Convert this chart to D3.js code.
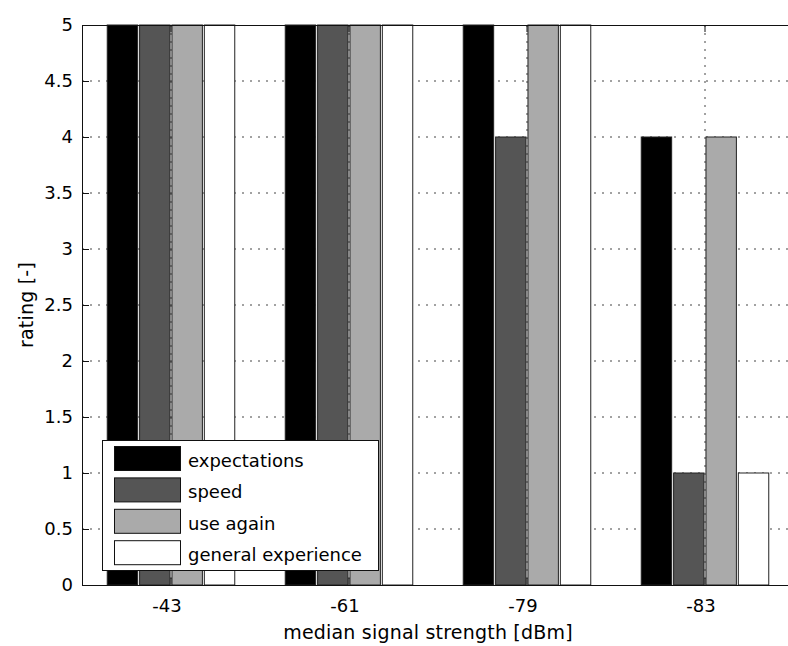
<!DOCTYPE html>
<html>
<head>
<meta charset="utf-8">
<script src="https://cdn.jsdelivr.net/npm/d3@7"></script>
<style>
  html, body { margin: 0; padding: 0; background: #fff; }
  svg { display: block; font-family: "DejaVu Sans", sans-serif; }
  .tick-label { font-size: 18px; fill: #000; }
  .axis-title { font-size: 19px; fill: #000; letter-spacing: 0.2px; }
  .legend-text { font-size: 18px; fill: #000; }
  .grid { stroke: #444; stroke-width: 1; stroke-dasharray: 2,6; fill: none; }
  .frame { stroke: #111; stroke-width: 1; fill: none; }
  .bar { stroke: #222; stroke-width: 1; }
</style>
</head>
<body>
<div id="chart"></div>
<script>
const d3 = window.d3;

// Data.
const categories = ['-43', '-61', '-79', '-83'];
const seriesNames = ['expectations', 'speed', 'use again', 'general experience'];
const expectations = [5, 5, 5, 4];
const speed = [5, 5, 4, 1];
const useAgain = [5, 5, 5, 4];
const generalExperience = [5, 5, 5, 1];
const yTicks = [0, 0.5, 1, 1.5, 2, 2.5, 3, 3.5, 4, 4.5, 5];
const xLabel = 'median signal strength [dBm]';
const yLabel = 'rating [-]';

const seriesValues = [expectations, speed, useAgain, generalExperience];
const fills = ['#000000', '#555555', '#aaaaaa', '#ffffff'];

const W = 788, H = 646;
const M = { top: 25, left: 82, bottom: 61, right: -6 };
const innerW = W - M.left - M.right;
const innerH = H - M.top - M.bottom;
const TICK = 7;

const svg = d3.select('#chart').append('svg')
  .attr('width', W).attr('height', H).attr('viewBox', `0 0 ${W} ${H}`);
svg.append('rect').attr('width', W).attr('height', H).attr('fill', '#fff');

const g = svg.append('g').attr('transform', `translate(${M.left},${M.top})`);

const x = d3.scaleBand().domain(categories).range([0, innerW]).padding(0);
const groupW = x.bandwidth() * 4 / 5.5;
const xs = d3.scaleBand().domain(seriesNames)
  .range([-groupW / 2, groupW / 2]).paddingInner(0.06).paddingOuter(0.03);
const y = d3.scaleLinear().domain([0, 5]).range([innerH, 0]);
const cx = (c) => x(c) + x.bandwidth() / 2;

// Dotted grid, behind the bars.
g.append('g').selectAll('line').data(yTicks.slice(1, -1)).join('line')
  .attr('class', 'grid')
  .attr('x1', 0).attr('x2', innerW)
  .attr('y1', (d) => y(d)).attr('y2', (d) => y(d));
g.append('g').selectAll('line').data(categories).join('line')
  .attr('class', 'grid')
  .attr('x1', cx).attr('x2', cx)
  .attr('y1', 0).attr('y2', innerH);

// Bars.
const rows = [];
seriesNames.forEach((s, si) => {
  categories.forEach((c, ci) => rows.push({ s, si, c, v: seriesValues[si][ci] }));
});
g.append('g').selectAll('rect').data(rows).join('rect')
  .attr('class', 'bar')
  .attr('x', (d) => cx(d.c) + xs(d.s))
  .attr('width', xs.bandwidth())
  .attr('y', (d) => y(d.v))
  .attr('height', (d) => y(0) - y(d.v))
  .attr('fill', (d) => fills[d.si]);

// Frame and inward ticks.
g.append('rect').attr('class', 'frame')
  .attr('x', 0.5).attr('y', 0.5).attr('width', innerW).attr('height', innerH);
const ticks = g.append('g').attr('stroke', '#111').attr('stroke-width', 1);
ticks.selectAll('.yt').data(yTicks).join('line')
  .attr('x1', 0).attr('x2', TICK)
  .attr('y1', (d) => Math.round(y(d)) + 0.5).attr('y2', (d) => Math.round(y(d)) + 0.5);
ticks.selectAll('.xt').data(categories).join('line')
  .attr('x1', cx).attr('x2', cx).attr('y1', 0).attr('y2', TICK);
ticks.selectAll('.xb').data(categories).join('line')
  .attr('x1', cx).attr('x2', cx).attr('y1', innerH).attr('y2', innerH - TICK);

// Tick labels.
g.append('g').selectAll('text').data(yTicks).join('text')
  .attr('class', 'tick-label')
  .attr('x', -9).attr('y', (d) => y(d))
  .attr('dy', '0.36em')
  .attr('text-anchor', 'end')
  .text((d) => d3.format('~g')(d));
g.append('g').selectAll('text').data(categories).join('text')
  .attr('class', 'tick-label')
  .attr('x', (d) => cx(d) - 4).attr('y', innerH + 27)
  .attr('text-anchor', 'middle')
  .text((d) => d);

// Axis titles.
svg.append('text').attr('class', 'axis-title')
  .attr('x', 428).attr('y', 639)
  .attr('text-anchor', 'middle')
  .text(xLabel);
svg.append('text').attr('class', 'axis-title')
  .attr('transform', `translate(33,${M.top + innerH / 2}) rotate(-90)`)
  .attr('text-anchor', 'middle')
  .text(yLabel);

// Legend.
const lg = svg.append('g').attr('transform', 'translate(102,440)');
lg.append('rect')
  .attr('x', 0.5).attr('y', 0.5).attr('width', 276).attr('height', 130)
  .attr('fill', '#fff').attr('stroke', '#111');
const item = lg.selectAll('g.item').data(seriesNames).join('g')
  .attr('class', 'item')
  .attr('transform', (d, i) => `translate(0,${6 + i * 31.4})`);
item.append('rect')
  .attr('x', 12.5).attr('y', 0.5).attr('width', 66).attr('height', 24)
  .attr('fill', (d, i) => fills[i]).attr('stroke', '#111');
item.append('text').attr('class', 'legend-text')
  .attr('x', 86).attr('y', 21)
  .text((d) => d);
</script>
</body>
</html>
